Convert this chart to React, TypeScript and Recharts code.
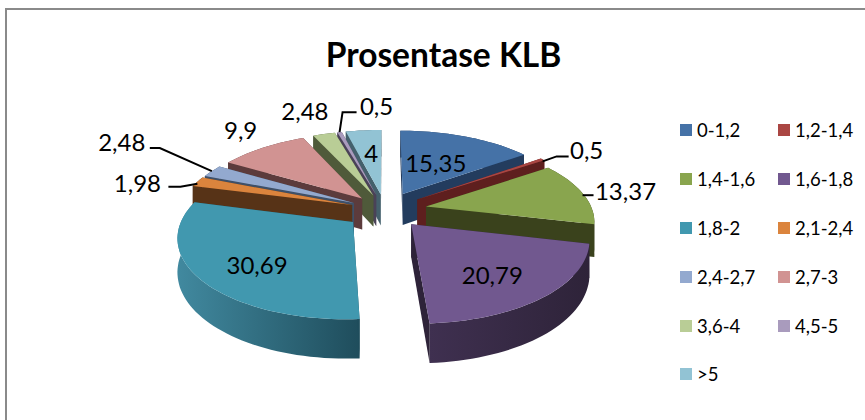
import React from "react";
import { PieChart, Pie, Legend } from "recharts";

const categories = ["0-1,2", "1,2-1,4", "1,4-1,6", "1,6-1,8", "1,8-2", "2,1-2,4", "2,4-2,7", "2,7-3", "3,6-4", "4,5-5", ">5"];
const values = [15.35, 0.5, 13.37, 20.79, 30.69, 1.98, 2.48, 9.9, 2.48, 0.5, 4];
const valueLabels = ["15,35", "0,5", "13,37", "20,79", "30,69", "1,98", "2,48", "9,9", "2,48", "0,5", "4"];
const topColors = ["#4572A7", "#AA4643", "#89A54E", "#71588F", "#4198AF", "#DB843D", "#93A9CF", "#D19392", "#B9CD96", "#A99BBD", "#92C3D4"];
const wallColors = ["#233C5E", "#5E1F1E", "#3A421C", "#2E2339", "#1F4D5C", "#573317", "#3F5068", "#5C3B3C", "#4F5A3A", "#4A4258", "#44606C"];
const wallLight = ["#233C5E", "#5E1F1E", "#3A421C", "#3F3050", "#41899F", "#573317", "#3F5068", "#5C3B3C", "#4F5A3A", "#4A4258", "#44606C"];

const rows = categories.map((name, i) => ({ name, value: values[i], fill: topColors[i], idx: i }));
const reversedRows = [...rows].reverse();

// 3D projection settings
const CX = 385, CY = 210, RADIUS = 175;
const SQUASH = 0.459, PERSPECTIVE = 0.169, DEPTH = 32;
const explodeBySlice = [0.23, 0.23, 0.24, 0.225, 0.23, 0.2, 0.2, 0.2, 0.2, 0.2, 0.2];
const scaleBySlice = [0.98, 1, 0.95, 0.97, 0.96, 1, 1, 1, 1, 1, 1];

// Label placement: radial position (1 = rim), offset, optional leader line relative to rim anchor
const labelPlace: { r: number; dx: number; dy: number; leader?: [number, number][] }[] = [
  { r: 0.5, dx: -1, dy: -1 },
  { r: 1, dx: 44, dy: -10, leader: [[0, 2], [14, -3], [26, -3]] },
  { r: 1, dx: 43, dy: -3, leader: [[0, 2], [11, 2]] },
  { r: 0.5, dx: 19, dy: 17 },
  { r: 0.5, dx: -24, dy: 15 },
  { r: 1, dx: -60, dy: 1, leader: [[0, 2], [-17, 5], [-29, 5]] },
  { r: 1, dx: -90, dy: -30, leader: [[0, 0], [-52, -23], [-62, -23]] },
  { r: 1, dx: -22, dy: -18 },
  { r: 1, dx: -19, dy: -24 },
  { r: 1, dx: 37, dy: -27, leader: [[0, 0], [3, -20], [17, -20]] },
  { r: 0.7, dx: 3, dy: 5 },
];

const rad = (d: number) => (d * Math.PI) / 180;
const clockAngle = (a: number) => ((90 - a) % 360 + 360) % 360;

function project(cx: number, cy: number, R: number, theta: number, r: number, mid: number, idx: number, drop = 0) {
  const e = explodeBySlice[idx];
  const s = r * scaleBySlice[idx];
  const u = s * Math.sin(rad(theta)) + e * Math.sin(rad(mid));
  const v = s * Math.cos(rad(theta)) + e * Math.cos(rad(mid));
  const f = 1 / (1 + PERSPECTIVE * v);
  return { x: cx + R * u * f, y: cy - R * SQUASH * v * f + drop * f };
}
const toPath = (pts: { x: number; y: number }[]) =>
  pts.map((p, i) => `${i ? "L" : "M"}${p.x.toFixed(1)},${p.y.toFixed(1)}`).join("") + "Z";

function sliceShape(side: "left" | "right") {
  return (props: any) => {
    const { cx, cy, outerRadius, startAngle, endAngle, payload } = props;
    const idx = payload?.idx ?? props.idx;
    const hi = Math.max(startAngle, endAngle);
    const lo = Math.min(startAngle, endAngle);
    const t0 = clockAngle(hi);
    const span = hi - lo;
    const mid = t0 + span / 2;
    const onLeft = (mid % 360) >= 180;
    if (onLeft !== (side === "left")) return <g />;
    const t1 = t0 + span;
    const steps = Math.max(2, Math.ceil(span / 2));
    const rimTop: { x: number; y: number }[] = [];
    const rimBottom: { x: number; y: number }[] = [];
    for (let i = 0; i <= steps; i++) {
      const t = t0 + (span * i) / steps;
      rimTop.push(project(cx, cy, outerRadius, t, 1, mid, idx));
      rimBottom.push(project(cx, cy, outerRadius, t, 1, mid, idx, DEPTH));
    }
    const apex = project(cx, cy, outerRadius, mid, 0, mid, idx);
    const apexLow = project(cx, cy, outerRadius, mid, 0, mid, idx, DEPTH);
    const wall = (end: number) => {
      const a = project(cx, cy, outerRadius, end, 1, mid, idx);
      const b = project(cx, cy, outerRadius, end, 1, mid, idx, DEPTH);
      return [apex, a, b, apexLow];
    };
    const gradId = `wall-grad-${idx}`;
    const dark = wallColors[idx];
    const light = wallLight[idx];
    const backEnd = onLeft ? t1 : t0;
    const frontEnd = onLeft ? t0 : t1;
    return (
      <g>
        <defs>
          <linearGradient id={gradId} x1="0" y1="0" x2="1" y2="0">
            <stop offset="0%" stopColor={light} />
            <stop offset="100%" stopColor={dark} />
          </linearGradient>
        </defs>
        <path d={toPath(wall(backEnd))} fill={dark} />
        <path d={toPath([...rimTop, ...[...rimBottom].reverse()])} fill={`url(#${gradId})`} />
        <path d={toPath(wall(frontEnd))} fill={dark} />
        <path d={toPath([apex, ...rimTop])} fill={topColors[idx]} />
      </g>
    );
  };
}

function sliceLabel(side: "left" | "right") {
  return (props: any) => {
    const { cx, cy, outerRadius, midAngle, payload } = props;
    const idx = payload?.idx ?? props.idx;
    const mid = clockAngle(midAngle);
    if ((mid >= 180) !== (side === "left")) return <g />;
    const place = labelPlace[idx];
    const anchor = project(cx, cy, outerRadius, mid, place.r, mid, idx);
    return (
      <g>
        {place.leader && (
          <polyline
            points={place.leader.map(([a, b]) => `${anchor.x + a},${anchor.y + b}`).join(" ")}
            fill="none"
            stroke="#000"
            strokeWidth={2}
          />
        )}
        <text
          x={anchor.x + place.dx}
          y={anchor.y + place.dy}
          textAnchor="middle"
          dominantBaseline="central"
          fontFamily="Lato, sans-serif"
          fontSize={24}
          fill="#000"
        >
          {valueLabels[idx]}
        </text>
      </g>
    );
  };
}

function LegendBox({ payload }: any) {
  const seen = new Set<string>();
  const items = (payload || []).filter((item: any) => {
    if (seen.has(item.value)) return false;
    seen.add(item.value);
    return true;
  });
  const ordered = categories.map((c) => items.find((it: any) => it.value === c)).filter(Boolean);
  return (
    <div style={{ display: "grid", gridTemplateColumns: "98px 98px", gridAutoRows: "48.9px", fontFamily: "Lato, sans-serif", fontSize: 18.5, color: "#000" }}>
      {ordered.map((item: any) => (
        <div key={item.value} style={{ display: "flex", alignItems: "center", height: 12, lineHeight: "12px", whiteSpace: "nowrap" }}>
          <span style={{ width: 12, height: 12, background: item.color, marginRight: 5, flex: "none" }} />
          <span>{item.value}</span>
        </div>
      ))}
    </div>
  );
}

export default function App() {
  return (
    <div style={{ position: "absolute", left: 0, top: 0, width: 865, height: 420, background: "#fff", overflow: "hidden" }}>
      <div style={{ position: "absolute", left: 5, top: 8, width: 860, height: 412, borderLeft: "2px solid #8a8a8a", borderTop: "2px solid #8a8a8a" }} />
      <div style={{ position: "absolute", left: 0, top: 34, width: 887, textAlign: "center", fontFamily: "Lato, sans-serif", fontWeight: 700, fontSize: 33.5, lineHeight: "40px", color: "#000" }}>
        Prosentase KLB
      </div>
      <PieChart width={865} height={420} margin={{ top: 0, right: 0, bottom: 0, left: 0 }} style={{ position: "absolute", left: 0, top: 0 }}>
        <Pie
          data={reversedRows}
          dataKey="value"
          nameKey="name"
          cx={CX}
          cy={CY}
          outerRadius={RADIUS}
          startAngle={90}
          endAngle={450}
          legendType="none"
          isAnimationActive={false}
          shape={sliceShape("left")}
          label={sliceLabel("left")}
          labelLine={false}
        />
        <Pie
          data={rows}
          dataKey="value"
          nameKey="name"
          cx={CX}
          cy={CY}
          outerRadius={RADIUS}
          startAngle={90}
          endAngle={-270}
          isAnimationActive={false}
          shape={sliceShape("right")}
          label={sliceLabel("right")}
          labelLine={false}
        />
        <Legend
          content={<LegendBox />}
          wrapperStyle={{ position: "absolute", left: 680, top: 124, width: 180, bottom: "auto", right: "auto" }}
        />
      </PieChart>
    </div>
  );
}
